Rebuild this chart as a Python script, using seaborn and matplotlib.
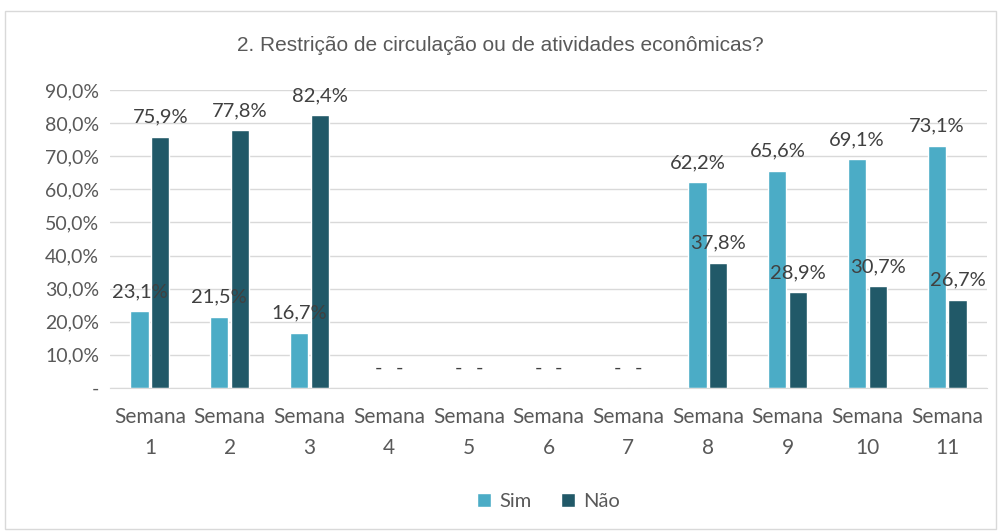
import matplotlib
matplotlib.use("Agg")
import matplotlib.pyplot as plt
import seaborn as sns
import pandas as pd
from matplotlib.patches import Rectangle
from matplotlib.ticker import FuncFormatter

semanas = ["Semana\n1", "Semana\n2", "Semana\n3", "Semana\n4", "Semana\n5", "Semana\n6",
           "Semana\n7", "Semana\n8", "Semana\n9", "Semana\n10", "Semana\n11"]
sim = [23.1, 21.5, 16.7, 0, 0, 0, 0, 62.2, 65.6, 69.1, 73.1]
nao = [75.9, 77.8, 82.4, 0, 0, 0, 0, 37.8, 28.9, 30.7, 26.7]
series = ["Sim", "Não"]
cores = ["#4BACC6", "#215968"]

df = pd.DataFrame({
    "semana": semanas * 2,
    "valor": sim + nao,
    "resposta": ["Sim"] * len(sim) + ["Não"] * len(nao),
})

sns.set_style("white")
plt.rcParams["font.family"] = ["Lato", "DejaVu Sans"]

fig = plt.figure(figsize=(10.01, 5.32), dpi=100)
ax = fig.add_axes([0.11, 0.2707, 0.876, 0.5602])

sns.barplot(data=df, x="semana", y="valor", hue="resposta", hue_order=series,
            palette=cores, saturation=1, width=0.52, gap=0.12, ax=ax, legend=True)

for cont in ax.containers:
    labels = [("-" if v == 0 else f"{v:.1f}%".replace(".", ",")) for v in cont.datavalues]
    ax.bar_label(cont, labels=labels, padding=8, fontsize=14.5, color="#404040")

ax.set_ylim(0, 90)
ax.set_yticks(range(0, 91, 10))
ax.yaxis.set_major_formatter(FuncFormatter(lambda v, p: "-" if v == 0 else f"{v:.1f}%".replace(".", ",")))
ax.grid(axis="y", color="#D9D9D9", linewidth=1)
ax.set_axisbelow(True)
for s in ["top", "right", "left"]:
    ax.spines[s].set_visible(False)
ax.spines["bottom"].set_color("#D9D9D9")
ax.tick_params(axis="y", length=0, labelsize=14, colors="#595959", pad=8)
ax.tick_params(axis="x", length=0, labelsize=15, colors="#595959", pad=14)
ax.set_xticks(range(len(semanas)))
ax.set_xticklabels(semanas, linespacing=1.65)
ax.set_xlabel("")
ax.set_ylabel("")
ax.set_xlim(-0.5, len(semanas) - 0.5)

ax.legend(loc="upper center", bbox_to_anchor=(0.5, -0.29), ncol=2, frameon=False,
          fontsize=14.5, handlelength=0.7, handleheight=0.7, columnspacing=1.5,
          handletextpad=0.4, labelcolor="#595959")

fig.text(0.5, 0.915, "2. Restrição de circulação ou de atividades econômicas?",
         ha="center", va="center", fontsize=15, color="#595959",
         family=["Liberation Sans Narrow", "Liberation Sans", "DejaVu Sans"])

fig.patches.append(Rectangle((0.005, 0.005), 0.99, 0.975, transform=fig.transFigure,
                             fill=False, edgecolor="#D9D9D9", linewidth=1))

fig.savefig("out.png", dpi=100)
